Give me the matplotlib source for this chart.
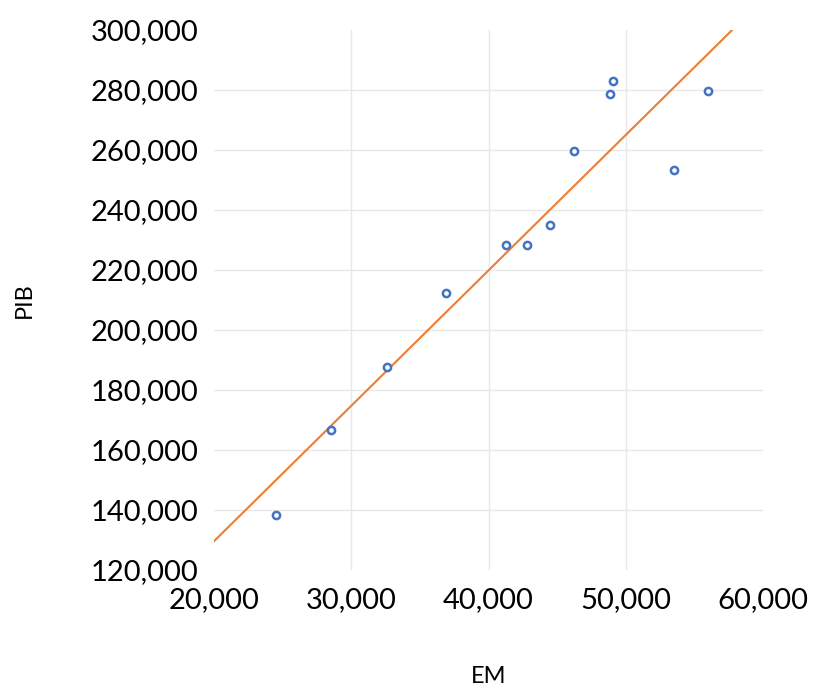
import matplotlib.pyplot as plt
import matplotlib.ticker as mticker
import numpy as np

plt.rcParams['font.family'] = ['Lato', 'DejaVu Sans']

# EM (x) vs PIB (y)
em = [24534, 28518, 32577, 36919, 41261, 42822, 44467, 46246,
      48860, 49086, 53486, 55992]
pib = [138333, 166667, 187667, 212222, 228333, 228333, 234889, 259556,
       278667, 282889, 253333, 279556]
x_ticks = [20000, 30000, 40000, 50000, 60000]
y_ticks = [120000, 140000, 160000, 180000, 200000, 220000, 240000,
           260000, 280000, 300000]

fig = plt.figure(figsize=(8.17, 6.91), dpi=100)
ax = fig.add_axes([0.2616, 0.1751, 0.6727, 0.7815])

# linear trendline (least squares)
a, b = np.polyfit(em, pib, 1)
xs = np.array([x_ticks[0], x_ticks[-1]])
ax.plot(xs, a * xs + b, color='#ED7D31', lw=1.5, zorder=2)

ax.plot(em, pib, 'o', ms=5.2, mfc='white', mec='#4472C4', mew=1.8,
        ls='none', zorder=3)

ax.set_xlim(x_ticks[0], x_ticks[-1])
ax.set_ylim(y_ticks[0], y_ticks[-1])
ax.set_xticks(x_ticks)
ax.set_yticks(y_ticks)
fmt = mticker.StrMethodFormatter('{x:,.0f}')
ax.xaxis.set_major_formatter(fmt)
ax.yaxis.set_major_formatter(fmt)
ax.tick_params(length=0, labelsize=21)
ax.tick_params(axis='y', pad=11)
ax.tick_params(axis='x', pad=12)

ax.grid(True, color='#e8e8e8', lw=1)
ax.set_axisbelow(True)
# Excel-like: no gridline at the axis limits
for gl in (ax.xaxis.get_gridlines()[0], ax.xaxis.get_gridlines()[-1],
           ax.yaxis.get_gridlines()[0], ax.yaxis.get_gridlines()[-1]):
    gl.set_visible(False)
for s in ax.spines.values():
    s.set_visible(False)

fig.text(0.0294, 0.566, 'PIB', rotation=90, ha='center', va='center',
         fontsize=17)
fig.text(0.598, 0.021, 'EM', ha='center', va='center', fontsize=17)

fig.savefig('out.png', dpi=100)
